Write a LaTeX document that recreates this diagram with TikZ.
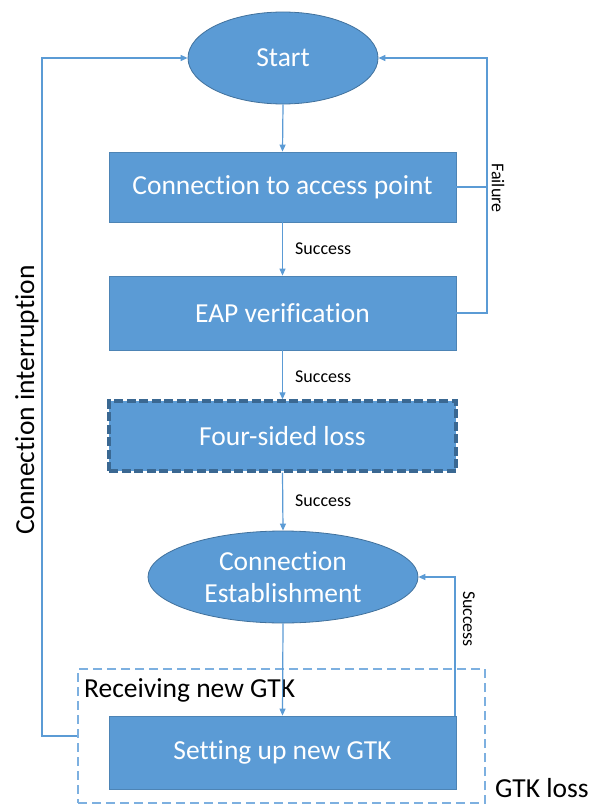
\documentclass[tikz,border=0pt]{standalone}
\usepackage{fontspec}
\setmainfont{Carlito}[Ligatures={NoCommon}]
\usetikzlibrary{shapes.geometric,arrows.meta}
\definecolor{boxblue}{HTML}{5B9BD5}
\definecolor{edgeblue}{HTML}{41719C}
\definecolor{darkedge}{HTML}{3A6892}
\definecolor{lineblue}{HTML}{5B9BD5}
\definecolor{frameblue}{HTML}{7DB0E0}
\tikzset{
  procbox/.style={rectangle, fill=boxblue, draw=boxblue!85!black, line width=0.8pt,
    minimum width=347pt, text=white, font=\fontsize{27.5}{32}\selectfont, inner sep=0pt},
  termell/.style={ellipse, fill=boxblue, draw=edgeblue, line width=0.8pt,
    text=white, font=\fontsize{27.5}{32}\selectfont, inner sep=0pt, align=center},
  dashbox/.style={procbox, draw=darkedge, line width=3.4pt, dash pattern=on 9pt off 3.5pt},
  framebox/.style={rectangle, draw=frameblue, line width=2.2pt, dash pattern=on 9pt off 5pt, inner sep=0pt},
  arr/.style={draw=lineblue, line width=1.2pt, -{Triangle[length=7pt,width=6pt]}},
  plain/.style={draw=lineblue, line width=1.2pt},
  lbl/.style={font=\fontsize{18}{20}\selectfont, text=black, inner sep=0pt},
  biglbl/.style={font=\fontsize{27.5}{32}\selectfont, text=black, inner sep=0pt}
}
\begin{document}
\begin{tikzpicture}[x=1pt,y=-1pt]
\useasboundingbox[fill=white] (0,0) rectangle (600,805);

\node[termell, minimum width=190pt, minimum height=92pt] (start) at (283,58) {Start};
\node[procbox, minimum height=70pt] (b1) at (282.5,187) {Connection to access point};
\node[procbox, minimum height=74pt] (b2) at (282.5,313) {EAP verification};
\node[dashbox, minimum height=70pt] (b3) at (282.5,436) {Four-sided loss};
\node[termell, minimum width=270pt, minimum height=92pt] (e2) at (283,577) {Connection\\Establishment};
\node[framebox, minimum width=407pt, minimum height=134pt] (frame) at (281.5,736) {};
\node[procbox, minimum height=73pt] (b4) at (282.5,752.5) {Setting up new GTK};

\node[biglbl, anchor=base west] (recv) at (84,697) {Receiving new GTK};
\node[biglbl, anchor=base west] (gtkloss) at (495,797) {GTK loss};
\node[biglbl, rotate=90] (interrupt) at (27,400) {Connection interruption};

\node[lbl, anchor=west] (s1) at (295,249) {Success};
\node[lbl, anchor=west] (s2) at (295,377) {Success};
\node[lbl, anchor=west] (s3) at (295,501) {Success};
\node[lbl, rotate=-90] (fail) at (498,188) {Failure};
\node[lbl, rotate=-90] (s4) at (469,619) {Success};

\draw[arr] (start.south) -- (b1.north);
\draw[arr] (b1.south) -- (b2.north);
\draw[arr] (b2.south) -- (b3.north);
\draw[arr] (b3.south) -- (e2.north);
\draw[arr] (e2.south) -- (b4.north);

\coordinate (rf) at (487,187);
\draw[arr] (b1.east) -- (rf) |- (start.east);
\draw[plain] (b2.east) -| (rf);

\coordinate (lf) at (42,736);
\draw[arr] (frame.west) -- (lf) |- (start.west);

\coordinate (rs) at (455,716);
\draw[arr] (rs) |- (e2.east);
\end{tikzpicture}
\end{document}
